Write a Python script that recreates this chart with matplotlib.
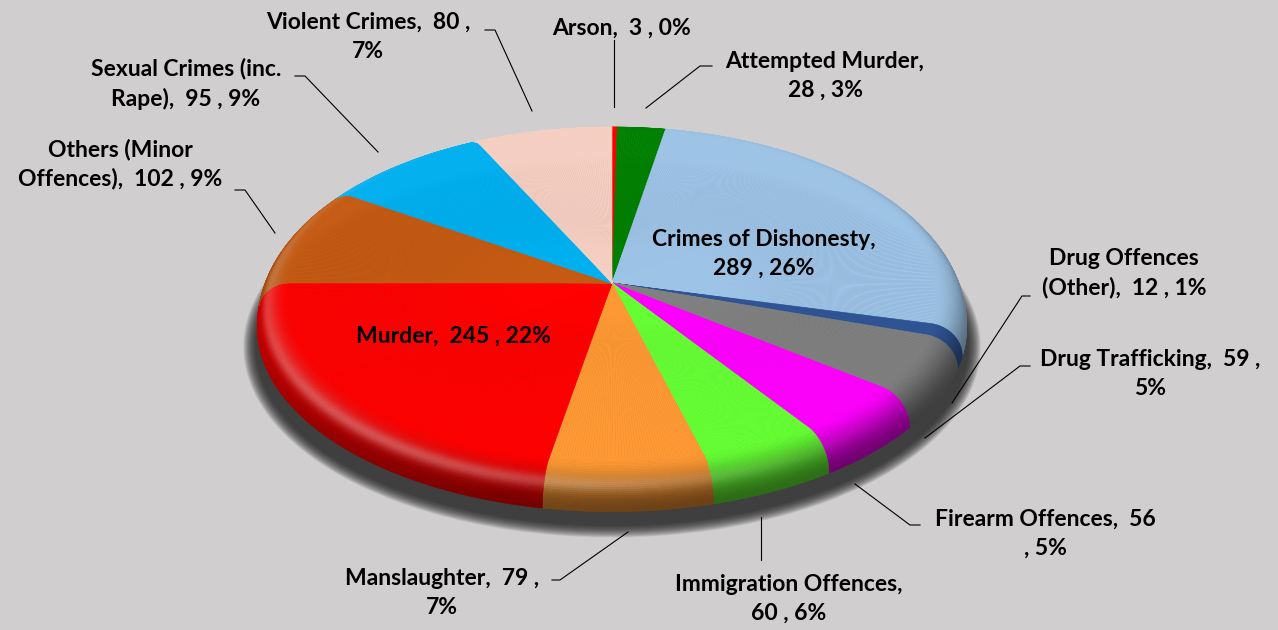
import numpy as np
import matplotlib
matplotlib.use("Agg")
import matplotlib.pyplot as plt
from matplotlib.collections import PolyCollection
from matplotlib.patches import Polygon
from matplotlib.colors import to_rgb

plt.rcParams['font.family'] = ['Lato', 'DejaVu Sans']

# data
names = ["Arson", "Attempted Murder", "Crimes of Dishonesty", "Drug Offences (Other)",
         "Drug Trafficking", "Firearm Offences", "Immigration Offences", "Manslaughter",
         "Murder", "Others (Minor Offences)", "Sexual Crimes (inc. Rape)", "Violent Crimes"]
counts = [3, 28, 289, 12, 59, 56, 60, 79, 245, 102, 95, 80]
percents = [0, 3, 26, 1, 5, 5, 6, 7, 22, 9, 9, 7]
colors = ["#ff0000", "#008000", "#9dc3e6", "#2f5597", "#808080", "#ff00ff",
          "#66ff33", "#ff9933", "#ff0000", "#c55a11", "#00b0f0", "#f6cfc2"]

# where each label wraps (text before the line break), None = one line
breaks = [None, "Attempted Murder,", "Crimes of Dishonesty,", "Drug Offences",
          "Drug Trafficking,  59 ,", "Firearm Offences,  56", "Immigration Offences,",
          "Manslaughter,  79 ,", None, "Others (Minor", "Sexual Crimes (inc.",
          "Violent Crimes,  80 ,"]
label_xy = [(621, 28), (825, 76), (764, 254), (1124, 273), (1150, 374), (1045, 534),
            (789, 599), (442, 593), (453, 336), (120, 164), (186, 84), (368, 37)]
leaders = [
    [(614, 40), (614, 107)],
    [(712, 66), (700, 66), (646, 108)],
    None,
    [(1030, 296), (1022, 296), (952, 403)],
    [(1030, 366), (1020, 366), (925, 438)],
    [(920, 525), (910, 525), (855, 484)],
    [(761, 560), (761, 517)],
    [(552, 580), (560, 580), (628, 532)],
    None,
    [(235, 190), (245, 190), (275, 233)],
    [(295, 76), (305, 76), (378, 152)],
    [(485, 30), (495, 30), (532, 111)],
]

# view of the tilted pie
cx, cy = 612, 283
S, alpha, D = 355.0, np.radians(30.7), 9.93
r0, h = 0.907, 0.094


def project(r, th, z):
    x = r * np.sin(th)
    y = r * np.cos(th)
    w = 1 + (y * np.cos(alpha) - z * np.sin(alpha)) / D
    return cx + S * x / w, cy - S * (y * np.sin(alpha) + z * np.cos(alpha)) / w


def shade(rgb, phi, th):
    front = -np.cos(th)
    side = np.sin(th)
    dark = (0.30 + 0.26 * front + 0.08 * side) * np.sin(phi) ** 2
    glow = 0.28 * np.clip(np.cos(th - np.radians(215)), 0, None) ** 2 * np.exp(-((phi - 0.8) / 0.2) ** 2)
    glow += 0.15 * np.clip(-side, 0, None) ** 2 * np.exp(-((phi - 0.6) / 0.3) ** 2)
    c = rgb[None, :] * (1 - dark[:, None])
    c = c + (1 - c) * glow[:, None]
    return np.clip(c, 0, 1)


fig = plt.figure(figsize=(12.78, 6.30), dpi=100, facecolor="#d0cece")
ax = fig.add_axes([0, 0, 1, 1])
ax.set_xlim(0, 1278)
ax.set_ylim(630, 0)
ax.axis("off")

# soft shadow under the pie
tt = np.linspace(0, 2 * np.pi, 400)
ex, ey = project(np.ones_like(tt), tt, -h * np.ones_like(tt))
ey = ey + 19
mx, my = ex.mean(), ey.mean()
for d in np.linspace(7, -5, 14):
    sx = 1.02 + d / 356
    sy = 1.0 + d / 200
    ax.add_patch(Polygon(np.column_stack([mx + (ex - mx) * sx, my + (ey - my) * sy]),
                         closed=True, facecolor="#1c1c1c", edgecolor="none", alpha=0.1))

# slices
total = sum(counts)
edges = 2 * np.pi * np.concatenate([[0], np.cumsum(counts) / total])
phis = np.linspace(0, np.pi / 2, 28)
r_all = np.concatenate([np.linspace(0, r0, 4), r0 + (1 - r0) * np.sin(phis[1:])])
z_all = np.concatenate([np.zeros(4), -h * (1 - np.cos(phis[1:]))])
p_all = np.concatenate([np.zeros(4), phis[1:]])

for i in range(len(counts)):
    a0, a1 = edges[i], edges[i + 1]
    nt = max(2, int(np.degrees(a1 - a0) * 2) + 1)
    th = np.linspace(a0, a1, nt)
    TH, R = np.meshgrid(th, r_all)
    Z = np.repeat(z_all[:, None], nt, axis=1)
    X, Y = project(R, TH, Z)
    quads = np.stack([np.stack([X[:-1, :-1], Y[:-1, :-1]], -1),
                      np.stack([X[:-1, 1:], Y[:-1, 1:]], -1),
                      np.stack([X[1:, 1:], Y[1:, 1:]], -1),
                      np.stack([X[1:, :-1], Y[1:, :-1]], -1)], axis=2)
    quads = quads.reshape(-1, 4, 2)
    qx, qy = quads[..., 0], quads[..., 1]
    area = 0.5 * np.sum(qx * np.roll(qy, -1, axis=1) - np.roll(qx, -1, axis=1) * qy, axis=1)
    ref = np.sign(np.median(area[: (nt - 1) * 3]))
    keep = np.sign(area) == ref
    pc = (p_all[:-1] + p_all[1:]) / 2
    tc = (th[:-1] + th[1:]) / 2
    PC, TC = np.meshgrid(pc, tc, indexing="ij")
    cols = shade(np.array(to_rgb(colors[i])), PC.ravel(), TC.ravel())
    coll = PolyCollection(quads[keep], facecolors=cols[keep], edgecolors=cols[keep],
                          linewidths=0.4, antialiased=True)
    ax.add_collection(coll)

# labels and leader lines
for i in range(len(counts)):
    s = f"{names[i]},  {counts[i]} , {percents[i]}%"
    if breaks[i]:
        n = len(breaks[i])
        s = s[:n] + "\n" + s[n:].lstrip()
    x, y = label_xy[i]
    ax.text(x, y, s, ha="center", va="center", fontsize=16.5, fontweight="bold",
            color="black", linespacing=1.45)
    if leaders[i]:
        lx, ly = zip(*leaders[i])
        ax.plot(lx, ly, color="black", lw=0.8)

fig.savefig("out.png", dpi=100, facecolor=fig.get_facecolor())
